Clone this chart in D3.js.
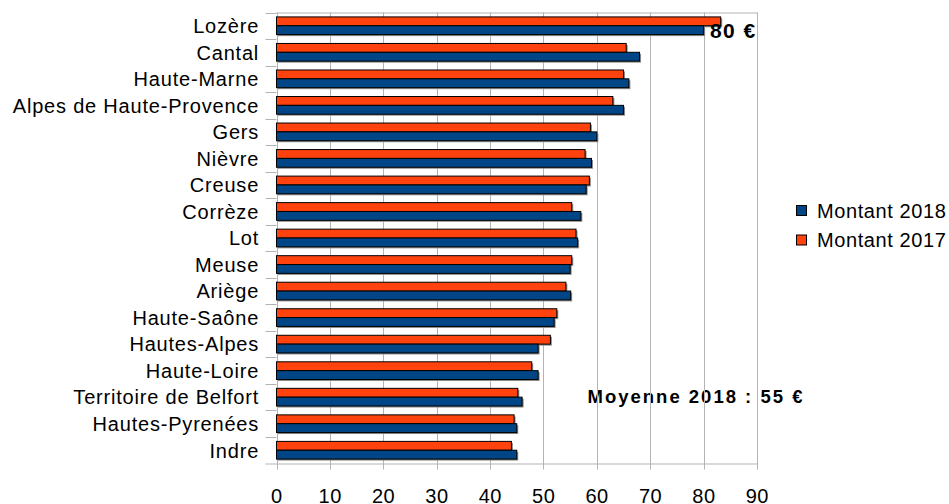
<!DOCTYPE html>
<html>
<head>
<meta charset="utf-8">
<script src="https://cdn.jsdelivr.net/npm/d3@7"></script>
<style>
  body { margin: 0; background: #fff; }
  text { font-family: "Liberation Sans", Arial, sans-serif; fill: #000; }
</style>
</head>
<body>
<script>
var width = 949, height = 504;

var departements = ["Lozère", "Cantal", "Haute-Marne", "Alpes de Haute-Provence", "Gers", "Nièvre",
  "Creuse", "Corrèze", "Lot", "Meuse", "Ariège", "Haute-Saône", "Hautes-Alpes", "Haute-Loire",
  "Territoire de Belfort", "Hautes-Pyrenées", "Indre"];
var montant2018 = [80, 68, 66, 65, 60, 59, 58, 57, 56.4, 55, 55.1, 52, 49, 49, 46, 45, 45];
var montant2017 = [83.2, 65.5, 65, 63, 58.8, 57.8, 58.6, 55.3, 56.1, 55.3, 54.2, 52.5, 51.3, 47.8, 45.2, 44.5, 44];
var series = ["Montant 2017", "Montant 2018"];
var colors = {"Montant 2018": "#004586", "Montant 2017": "#ff420e"};
var xTicks = [0, 10, 20, 30, 40, 50, 60, 70, 80, 90];

var plotLeft = 276.5, plotRight = 757, plotTop = 12.5, plotBottom = 463.5;

var svg = d3.select("body").append("svg")
  .attr("width", width)
  .attr("height", height);

var x = d3.scaleLinear().domain([0, 90]).range([plotLeft, plotRight]);
var y = d3.scaleBand().domain(departements).range([plotTop, plotBottom]);
var ySub = d3.scaleBand().domain(series).range([0, y.bandwidth()]).paddingOuter(0.5);

var rows = departements.map(function(d, i) {
  return {name: d, "Montant 2017": montant2017[i], "Montant 2018": montant2018[i]};
});

// annotation under the grid
svg.append("text")
  .attr("x", 587.5)
  .attr("y", 402.5)
  .style("font-size", "18.5px")
  .style("font-weight", "bold")
  .style("letter-spacing", "2px")
  .text("Moyenne 2018 : 55 €");

// grid
svg.append("g").selectAll("line")
  .data(xTicks)
  .enter()
  .append("line")
  .attr("x1", function(d) { return Math.round(x(d)) + 0.5; })
  .attr("x2", function(d) { return Math.round(x(d)) + 0.5; })
  .attr("y1", plotTop)
  .attr("y2", plotBottom + 6)
  .style("stroke", "#b3b3b3");

svg.append("line")
  .attr("x1", plotLeft).attr("x2", plotRight + 0.5)
  .attr("y1", plotTop + 0.5).attr("y2", plotTop + 0.5)
  .style("stroke", "#b3b3b3");

svg.append("line")
  .attr("x1", plotLeft - 11).attr("x2", plotRight + 0.5)
  .attr("y1", plotBottom + 0.5).attr("y2", plotBottom + 0.5)
  .style("stroke", "#b3b3b3");

// category ticks
svg.append("g").selectAll("line")
  .data(departements)
  .enter()
  .append("line")
  .attr("x1", plotLeft - 11)
  .attr("x2", plotLeft)
  .attr("y1", function(d) { return Math.round(y(d)) + 0.5; })
  .attr("y2", function(d) { return Math.round(y(d)) + 0.5; })
  .style("stroke", "#b3b3b3");

// bars
var groups = svg.append("g").selectAll("g")
  .data(rows)
  .enter()
  .append("g")
  .attr("transform", function(d) { return "translate(0," + y(d.name) + ")"; });

groups.selectAll("rect.shadow")
  .data(function(d) { return series.map(function(s) { return {key: s, value: d[s]}; }); })
  .enter()
  .append("rect")
  .attr("class", "shadow")
  .attr("x", x(0) + 1.5)
  .attr("y", function(d) { return ySub(d.key) + 1.5; })
  .attr("width", function(d) { return x(d.value) - x(0); })
  .attr("height", ySub.bandwidth())
  .style("fill", "#8a8a8a");

groups.selectAll("rect.bar")
  .data(function(d) { return series.map(function(s) { return {key: s, value: d[s]}; }); })
  .enter()
  .append("rect")
  .attr("class", "bar")
  .attr("x", x(0))
  .attr("y", function(d) { return ySub(d.key); })
  .attr("width", function(d) { return x(d.value) - x(0); })
  .attr("height", ySub.bandwidth())
  .style("fill", function(d) { return colors[d.key]; })
  .style("stroke", "#000")
  .style("stroke-width", 1);

// category labels
svg.append("g").selectAll("text")
  .data(departements)
  .enter()
  .append("text")
  .attr("x", 259.1)
  .attr("y", function(d) { return y(d) + y.bandwidth() / 2 + 7.3; })
  .attr("text-anchor", "end")
  .style("font-size", "20px")
  .style("letter-spacing", "0.8px")
  .text(function(d) { return d; });

// x tick labels
svg.append("g").selectAll("text")
  .data(xTicks)
  .enter()
  .append("text")
  .attr("x", function(d) { return x(d) + 0.3; })
  .attr("y", 502.5)
  .attr("text-anchor", "middle")
  .style("font-size", "20px")
  .style("letter-spacing", "0.5px")
  .text(function(d) { return d; });

svg.append("text")
  .attr("x", 710)
  .attr("y", 38.3)
  .style("font-size", "21px")
  .style("font-weight", "bold")
  .style("letter-spacing", "1.4px")
  .text("80 €");

// legend
var legend = svg.append("g").selectAll("g")
  .data(["Montant 2018", "Montant 2017"])
  .enter()
  .append("g")
  .attr("transform", function(d, i) { return "translate(796," + (205 + i * 29.5) + ")"; });

legend.append("rect")
  .attr("x", 0.5).attr("y", 0.5)
  .attr("width", 10).attr("height", 10)
  .style("fill", function(d) { return colors[d]; })
  .style("stroke", "#000");

legend.append("text")
  .attr("x", 21)
  .attr("y", 12.7)
  .style("font-size", "20px")
  .style("letter-spacing", "0.6px")
  .text(function(d) { return d; });
</script>
</body>
</html>
